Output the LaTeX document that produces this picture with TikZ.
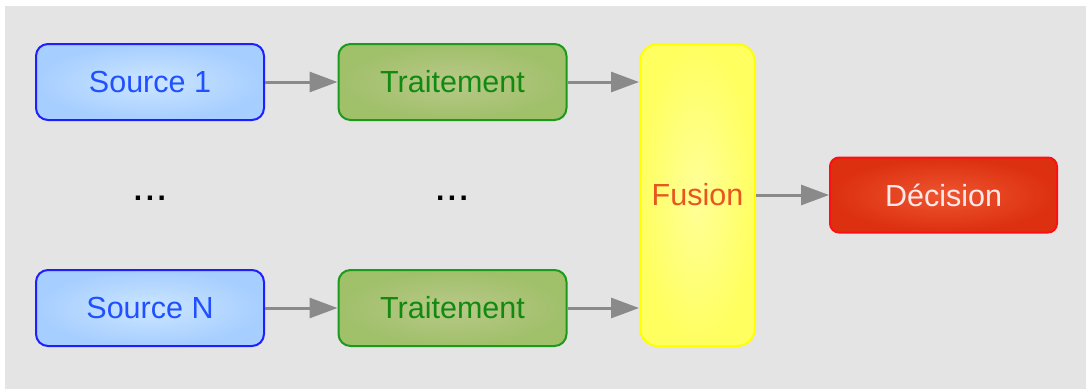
\documentclass[tikz,border=0pt]{standalone}
\usepackage{fontspec}
\setmainfont{Liberation Sans}
\usetikzlibrary{arrows.meta}
\definecolor{bg}{HTML}{E4E4E4}
\definecolor{srcline}{HTML}{1E1EFF}
\definecolor{srctext}{HTML}{2050FF}
\definecolor{srcout}{HTML}{A6CEFF}
\definecolor{srcin}{HTML}{CCE6FF}
\definecolor{trline}{HTML}{1C9A1C}
\definecolor{trtext}{HTML}{128A12}
\definecolor{trout}{HTML}{A0C06A}
\definecolor{trin}{HTML}{B8C888}
\definecolor{fuline}{HTML}{FFFF00}
\definecolor{futext}{HTML}{E8561E}
\definecolor{fuout}{HTML}{FFFF60}
\definecolor{fuin}{HTML}{FFFF99}
\definecolor{deline}{HTML}{FF1010}
\definecolor{detext}{HTML}{FFE8E8}
\definecolor{deout}{HTML}{DC3010}
\definecolor{dein}{HTML}{EE5530}
\definecolor{arrowgray}{HTML}{8A8A8A}
\tikzset{
  box/.style={rounded corners=12pt, line width=2pt, minimum width=228pt,
    minimum height=76pt, inner sep=0pt, font=\fontsize{30.5}{33}\selectfont},
  srcbox/.style={box, draw=srcline, inner color=srcin, outer color=srcout, text=srctext},
  trbox/.style={box, draw=trline, inner color=trin, outer color=trout, text=trtext},
  fubox/.style={box, rounded corners=18pt, draw=fuline, inner color=fuin, outer color=fuout,
    text=futext, minimum width=115pt, minimum height=302pt},
  debox/.style={box, rounded corners=9pt, draw=deline, inner color=dein, outer color=deout,
    text=detext, minimum width=227pt, minimum height=75pt},
  dots/.style={font=\fontsize{30}{32}\selectfont\bfseries, text=black},
  link/.style={draw=arrowgray, line width=3pt,
    -{Triangle[length=28pt, width=20pt]}, shorten >=0pt}
}
\begin{document}
\begin{tikzpicture}[x=1pt, y=-1pt]
  \useasboundingbox (0,0) rectangle (1086,389);
  \fill[bg] (5,6) rectangle (1086,389);

  \node[srcbox] (s1) at (150,82) {Source 1};
  \node[srcbox] (sn) at (150,308) {Source N};
  \node[trbox] (t1) at (452.5,82) {Traitement};
  \node[trbox] (tn) at (452.5,308) {Traitement};
  \node[fubox] (fu) at (697.5,195) {Fusion};
  \node[debox] (de) at (943.5,195) {Décision};

  \node[dots] (d1) at (150,198) {.\kern3.5pt.\kern3.5pt.};
  \node[dots] (d2) at (452,198) {.\kern3.5pt.\kern3.5pt.};

  \draw[link] (s1.east) -- (t1.west);
  \draw[link] (sn.east) -- (tn.west);
  \draw[link] (t1.east) -- (t1.east -| fu.west);
  \draw[link] (tn.east) -- (tn.east -| fu.west);
  \draw[link] (fu.east |- de.west) -- (de.west);
\end{tikzpicture}
\end{document}
